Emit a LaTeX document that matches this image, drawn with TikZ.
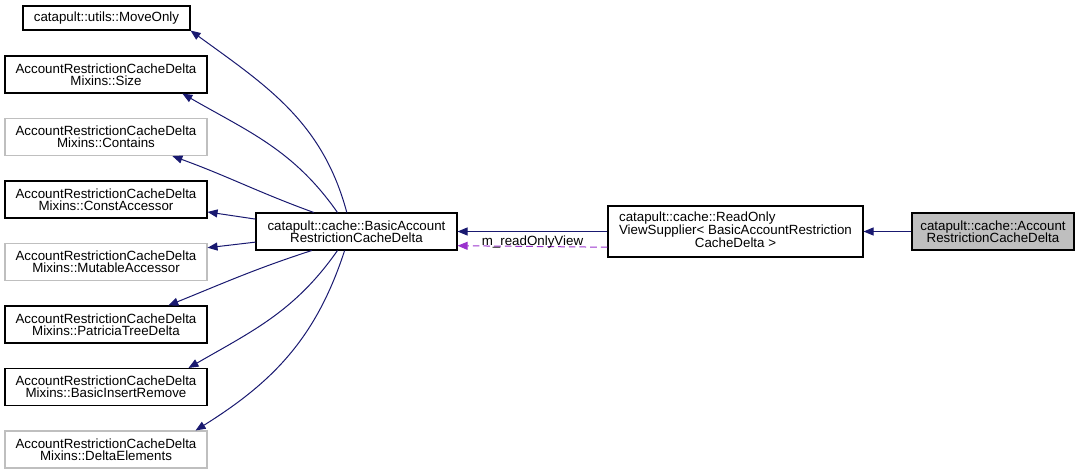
\documentclass[tikz,border=0pt]{standalone}
\usepackage{fontspec}
\setmainfont{Liberation Sans}
\usetikzlibrary{arrows.meta}

\definecolor{edgeblue}{HTML}{191970}
\definecolor{memberpurple}{HTML}{9A32CD}
\definecolor{hiddengray}{HTML}{BFBFBF}
\lineskiplimit=-5pt

\begin{document}
\begin{tikzpicture}[
  x=0.75pt, y=-0.75pt,
  >={Triangle[length=7.5pt, width=6pt]},
  font=\fontsize{10pt}{9.2pt}\selectfont,
  cls/.style={rectangle, draw=black, line width=0.8pt, align=center, inner sep=0pt, minimum width=151.5pt, minimum height=27.75pt},
  undoc/.style={cls, draw=hiddengray},
  cur/.style={cls, fill=hiddengray, minimum width=121.5pt},
  inh/.style={->, draw=edgeblue, line width=0.75pt},
  member/.style={->, draw=memberpurple, dashed, dash pattern=on 5pt off 3pt, line width=0.75pt}
]
  \useasboundingbox (0,0) rectangle (1084,475);

  % base classes
  \node[cls, minimum width=125.25pt, minimum height=18pt] (moveonly) at (106.5,18) {catapult::utils::MoveOnly};
  \node[cls] (size) at (106,74.5) {AccountRestrictionCacheDelta\\Mixins::Size};
  \node[undoc] (contains) at (106,137) {AccountRestrictionCacheDelta\\Mixins::Contains};
  \node[cls] (constacc) at (106,199.5) {AccountRestrictionCacheDelta\\Mixins::ConstAccessor};
  \node[undoc] (mutacc) at (106,262) {AccountRestrictionCacheDelta\\Mixins::MutableAccessor};
  \node[cls] (patricia) at (106,324.5) {AccountRestrictionCacheDelta\\Mixins::PatriciaTreeDelta};
  \node[cls] (insert) at (106,387) {AccountRestrictionCacheDelta\\Mixins::BasicInsertRemove};
  \node[undoc] (deltaelem) at (106,449.5) {AccountRestrictionCacheDelta\\Mixins::DeltaElements};

  \node[cls, minimum width=150.75pt] (basic) at (356.5,231.5) {catapult::cache::BasicAccount\\RestrictionCacheDelta};
  \node[cls, minimum width=191.25pt, minimum height=38.25pt] (readonly) at (735.5,231.5)
    {\begin{tabular}{@{}l@{}}catapult::cache::ReadOnly\\ViewSupplier< BasicAccountRestriction\\\multicolumn{1}{@{}c@{}}{CacheDelta >}\end{tabular}};
  \node[cur] (account) at (993,231.5) {catapult::cache::Account\\RestrictionCacheDelta};

  % inheritance
  \draw[inh] (basic.117) to[out=105, in=-36] (moveonly.south east);
  \draw[inh] (basic.135) to[out=125, in=-30] (size.-14);
  \draw[inh] (basic.156) to[out=160, in=-20] (contains.-16);
  \draw[inh] (basic.173) -- (constacc.-7);
  \draw[inh] (basic.-174.6) -- (mutacc.8.4);
  \draw[inh] (basic.-157) to[out=-162, in=22] (patricia.17);
  \draw[inh] (basic.-135) to[out=-125, in=30] (insert.13);
  \draw[inh] (basic.-122) to[out=-108, in=32] (deltaelem.12);

  \draw[inh] (readonly.west) -- (basic.east);
  \draw[member] (readonly.-173.5) -- node[above, inner sep=0pt, yshift=-1.5pt, text=black] (lbl) {m\_readOnlyView} (basic.-8);
  \draw[inh] (account.west) -- (readonly.east);
\end{tikzpicture}
\end{document}
